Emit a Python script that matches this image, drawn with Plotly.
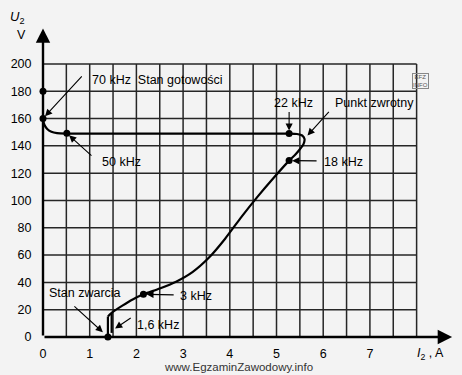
import plotly.graph_objects as go

# ---- data ----
curve_I = [1.39, 1.50, 1.70, 1.92, 2.15, 2.50, 2.85, 3.20, 3.55, 3.90, 4.25, 4.60, 4.95, 5.27, 5.40, 5.50, 5.58, 5.60, 5.55, 5.44, 5.27, 0.51, 0.30, 0.18, 0.09, 0.03, 0.0, 0.0]
curve_U = [15, 18.5, 23, 27.5, 31.3, 35.5, 40.5, 47.5, 58, 72, 88, 103, 117, 129.2, 133.5, 137.5, 141.5, 145, 147.6, 148.7, 149, 149, 149.3, 150.3, 152.4, 155.5, 160, 180]
leg_left_I = [1.39, 1.39]
leg_left_U = [0, 15]
leg_right_I = [1.47, 1.47]
leg_right_U = [3, 17.5]
dot_I = [1.39, 2.15, 5.27, 5.27, 0.51, 0.0, 0.0]
dot_U = [0, 31.3, 129.2, 149, 149.2, 160, 180]

x_ticks = [0, 1, 2, 3, 4, 5, 6, 7]
y_ticks = [0, 20, 40, 60, 80, 100, 120, 140, 160, 180, 200]
x_grid = [0.5 * k for k in range(1, 17)]
y_grid = [20 * k for k in range(1, 11)]

# label text and its left-anchored position
labels = [
    ("70 kHz  Stan gotowości", 1.0, 188.3),
    ("50 kHz", 1.22, 128.2),
    ("22 kHz", 4.90, 171.4),
    ("Punkt zwrotny", 6.21, 171.4),
    ("18 kHz", 5.97, 128.2),
    ("3 kHz", 2.89, 30.0),
    ("Stan zwarcia", 0.08, 32.2),
    ("1,6 kHz", 1.97, 8.8),
]
# arrow tail (x, y) -> head (x, y)
arrows = [
    (0.86, 192.0, 0.0, 160.0),
    (1.07, 131.9, 0.51, 149.2),
    (5.27, 166.0, 5.27, 149.0),
    (6.15, 166.0, 5.62, 146.0),
    (5.89, 129.0, 5.27, 129.2),
    (2.83, 30.8, 2.15, 31.3),
    (0.64, 23.4, 1.33, 2.0),
    (1.91, 14.7, 1.49, 5.0),
]

FONT = "Liberation Sans, Arial, sans-serif"
INK = "#000000"
W, H = 462, 375
L, R, T, B = 43, 7, 20, 38
pw, ph = W - L - R, H - T - B


def px(xp, yp):
    return (xp - L) / pw, 1 - (yp - T) / ph


fig = go.Figure()

# grid
gx, gy = [], []
for v in x_grid:
    gx += [v, v, None]
    gy += [0, 200, None]
for v in y_grid:
    gx += [0, 8, None]
    gy += [v, v, None]
fig.add_trace(go.Scatter(x=gx, y=gy, mode="lines", line=dict(color="#262626", width=1.5),
                         hoverinfo="skip", showlegend=False))

# curve
for xs, ys, shape in [(curve_I, curve_U, "spline"), (leg_left_I, leg_left_U, "linear"),
                      (leg_right_I, leg_right_U, "linear")]:
    fig.add_trace(go.Scatter(x=xs, y=ys, mode="lines",
                             line=dict(color="#000000", width=2.2, shape=shape, smoothing=0.6),
                             cliponaxis=False, showlegend=False))
fig.add_trace(go.Scatter(x=dot_I, y=dot_U, mode="markers",
                         marker=dict(color="#000000", size=7), cliponaxis=False, showlegend=False))

ann = []
# axis arrows
ann.append(dict(x=0, y=226, ax=0, ay=0, xref="x", yref="y", axref="x", ayref="y", text="",
                showarrow=True, arrowhead=2, arrowsize=1.2, arrowwidth=2.4, arrowcolor="#000"))
ann.append(dict(x=8.76, y=0, ax=0, ay=0, xref="x", yref="y", axref="x", ayref="y", text="",
                showarrow=True, arrowhead=2, arrowsize=1.2, arrowwidth=2.4, arrowcolor="#000"))
for (t, x, y) in labels:
    ann.append(dict(x=x, y=y, xref="x", yref="y", text=t, showarrow=False, xanchor="left",
                    yanchor="middle", font=dict(family=FONT, size=12.5, color=INK)))
for (ax, ay, x, y) in arrows:
    ann.append(dict(x=x, y=y, ax=ax, ay=ay, xref="x", yref="y", axref="x", ayref="y", text="",
                    showarrow=True, arrowhead=2, arrowsize=1.3, arrowwidth=1.1, arrowcolor="#000",
                    standoff=3))

extra = [
    ("<i>U</i><sub>2</sub>", 17, 17, 13),
    ("V", 21, 35, 12.5),
    ("<i>I</i><sub>2</sub> , A", 430, 354, 12.5),
]
for t, xp, yp, fs in extra:
    x, y = px(xp, yp)
    ann.append(dict(x=x, y=y, xref="paper", yref="paper", text=t, showarrow=False,
                    xanchor="center", yanchor="middle", font=dict(family=FONT, size=fs, color=INK)))
x, y = px(238, 367)
ann.append(dict(x=x, y=y, xref="paper", yref="paper", text="www.EgzaminZawodowy.info", showarrow=False,
                xanchor="center", yanchor="middle",
                font=dict(family="Liberation Sans Narrow, Liberation Sans, sans-serif", size=11.5, color="#333")))
x, y = px(420, 81)
ann.append(dict(x=x, y=y, xref="paper", yref="paper", text="EFZ<br>INFO", showarrow=False,
                xanchor="center", yanchor="middle", bordercolor="#888", borderwidth=1, borderpad=0,
                font=dict(family=FONT, size=6, color="#555")))

fig.update_layout(
    width=W, height=H,
    margin=dict(l=L, r=R, t=T, b=B, pad=0, autoexpand=False),
    paper_bgcolor="#f3f3f3", plot_bgcolor="rgba(0,0,0,0)",
    showlegend=False,
    annotations=ann,
    xaxis=dict(range=[0, 8.822], showgrid=False, zeroline=False, showline=False, automargin=False,
               tickmode="array", tickvals=x_ticks, ticktext=[str(v) for v in x_ticks],
               ticks="outside", ticklen=5, tickcolor="rgba(0,0,0,0)",
               tickfont=dict(family=FONT, size=12.5, color=INK), fixedrange=True),
    yaxis=dict(range=[0, 232.2], showgrid=False, zeroline=False, showline=False, automargin=False,
               tickmode="array", tickvals=y_ticks, ticktext=[str(v) for v in y_ticks],
               ticks="outside", ticklen=8, tickcolor="rgba(0,0,0,0)",
               tickfont=dict(family=FONT, size=12.5, color=INK), fixedrange=True),
)

fig.write_html("out.html", config={"displayModeBar": False},
               post_script="document.body.style.margin='0';document.body.style.background='#f3f3f3';")
